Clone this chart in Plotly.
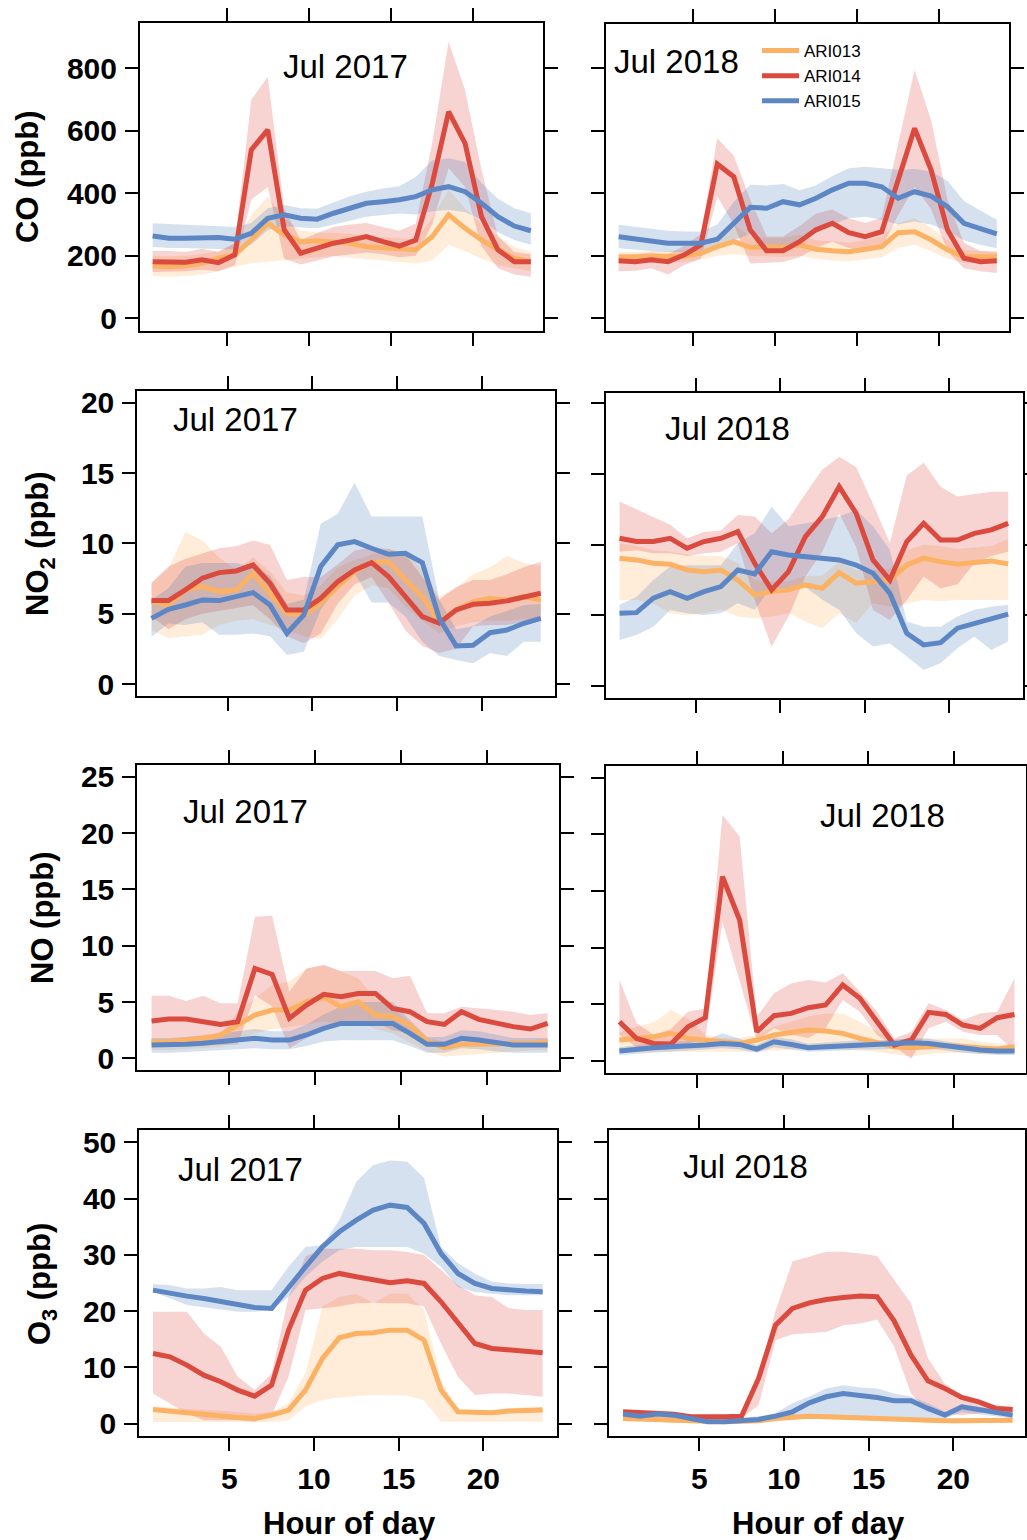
import plotly.graph_objects as go

# ---------------------------------------------------------------------------
# Diurnal cycles (hour-of-day means with spread) at three sites, July 2017/2018
# ---------------------------------------------------------------------------
HOURS = [0.5, 1.5, 2.5, 3.5, 4.5, 5.5, 6.5, 7.5, 8.5, 9.5, 10.5, 11.5,
         12.5, 13.5, 14.5, 15.5, 16.5, 17.5, 18.5, 19.5, 20.5, 21.5, 22.5, 23.5]
SITES = ["ARI013", "ARI014", "ARI015"]
X_TICKS = [5, 10, 15, 20]

# ---- CO (ppb) ----
co17_a13 = [167, 165, 167, 176, 192, 203, 251, 304, 267, 245, 248, 245, 240, 229, 227, 221, 219, 261, 331, 288, 251, 219, 192, 181]
co17_a13_lo = [135, 133, 135, 140, 150, 165, 176, 180, 185, 190, 195, 198, 195, 190, 185, 180, 175, 185, 235, 215, 190, 170, 160, 150]
co17_a13_hi = [200, 198, 200, 205, 215, 240, 330, 389, 320, 280, 275, 272, 270, 262, 258, 255, 252, 320, 411, 352, 300, 262, 228, 212]
co17_a14 = [181, 181, 179, 187, 178, 203, 539, 603, 283, 208, 224, 240, 250, 261, 245, 231, 250, 430, 661, 560, 325, 219, 181, 181]
co17_a14_lo = [148, 148, 150, 155, 150, 170, 380, 420, 190, 172, 185, 198, 205, 210, 205, 195, 200, 300, 480, 420, 230, 160, 140, 133]
co17_a14_hi = [215, 215, 212, 222, 212, 240, 699, 773, 350, 250, 272, 292, 300, 305, 292, 280, 302, 560, 885, 730, 475, 262, 212, 205]
co17_a15 = [263, 256, 256, 258, 258, 253, 272, 320, 331, 320, 317, 336, 352, 368, 373, 379, 389, 411, 421, 405, 368, 325, 295, 280]
co17_a15_lo = [229, 225, 225, 222, 222, 220, 235, 282, 295, 290, 288, 300, 312, 325, 330, 335, 332, 342, 346, 340, 315, 275, 250, 235]
co17_a15_hi = [304, 302, 300, 296, 295, 292, 305, 352, 362, 352, 350, 370, 390, 405, 415, 422, 452, 505, 512, 500, 432, 382, 352, 336]

co18_a13 = [195, 195, 197, 197, 199, 208, 229, 245, 227, 227, 227, 235, 221, 216, 213, 221, 229, 274, 277, 251, 219, 197, 197, 197]
co18_a13_lo = [175, 175, 178, 178, 180, 188, 200, 205, 200, 198, 196, 200, 190, 185, 182, 188, 195, 225, 235, 215, 190, 178, 178, 178]
co18_a13_hi = [212, 212, 215, 215, 218, 230, 260, 300, 262, 258, 258, 268, 250, 245, 242, 250, 262, 305, 320, 290, 250, 218, 215, 215]
co18_a14 = [184, 181, 187, 181, 203, 235, 494, 453, 283, 216, 216, 245, 283, 304, 274, 261, 277, 443, 608, 475, 283, 192, 181, 184]
co18_a14_lo = [150, 152, 160, 140, 170, 190, 390, 300, 175, 178, 180, 195, 225, 245, 225, 215, 225, 330, 420, 350, 215, 160, 150, 145]
co18_a14_hi = [205, 205, 210, 205, 232, 270, 576, 520, 380, 262, 262, 295, 335, 348, 320, 305, 322, 560, 795, 635, 380, 242, 215, 212]
co18_a15 = [261, 253, 245, 240, 240, 240, 253, 304, 355, 352, 373, 363, 384, 411, 432, 432, 421, 384, 405, 391, 357, 304, 285, 270]
co18_a15_lo = [224, 220, 215, 212, 212, 212, 222, 250, 270, 230, 225, 240, 275, 300, 320, 325, 315, 300, 310, 300, 280, 250, 235, 224]
co18_a15_hi = [299, 292, 285, 280, 278, 278, 300, 372, 427, 425, 430, 410, 425, 455, 480, 485, 480, 475, 478, 470, 440, 375, 345, 315]

# ---- NO2 (ppb) ----
no2_17_a13 = [5.86, 5.62, 6.69, 6.93, 6.57, 6.69, 7.87, 6.4, 5.03, 4.91, 5.74, 6.93, 7.99, 8.63, 8.7, 7.4, 6.21, 4.43, 5.27, 5.86, 6.1, 5.98, 6.21, 5.98]
no2_17_a13_lo = [3.85, 3.25, 3.4, 3.5, 4.2, 4.5, 4.6, 4.2, 3.8, 3.4, 3.2, 4.6, 6.3, 7.0, 6.8, 5.5, 4.5, 3.6, 4.1, 4.4, 4.5, 4.5, 4.6, 4.5]
no2_17_a13_hi = [7.2, 8.2, 10.8, 10.2, 9.0, 8.1, 9.0, 8.0, 6.5, 6.3, 7.0, 8.3, 8.8, 9.2, 9.6, 9.3, 8.2, 6.2, 6.8, 7.8, 8.3, 9.1, 8.6, 8.4]
no2_17_a14 = [5.93, 5.93, 6.69, 7.52, 7.92, 8.04, 8.46, 7.16, 5.27, 5.27, 6.1, 7.28, 8.11, 8.63, 7.64, 6.21, 4.79, 4.32, 5.27, 5.67, 5.74, 5.91, 6.21, 6.45]
no2_17_a14_lo = [4.8, 3.9, 4.6, 5.0, 5.2, 5.4, 5.6, 4.6, 3.4, 2.9, 3.6, 5.7, 7.1, 7.6, 5.8, 3.8, 2.7, 2.2, 2.5, 4.1, 4.2, 4.2, 4.4, 4.6]
no2_17_a14_hi = [7.2, 8.35, 8.9, 9.3, 9.65, 9.8, 10.2, 9.9, 7.4, 7.6, 7.6, 8.5, 9.5, 9.7, 9.6, 9.2, 7.6, 6.0, 6.9, 7.4, 7.4, 7.8, 8.3, 8.7]
no2_17_a15 = [4.67, 5.31, 5.62, 5.98, 5.93, 6.21, 6.5, 5.62, 3.61, 4.91, 8.35, 9.89, 10.12, 9.65, 9.22, 9.3, 8.63, 4.67, 2.71, 2.75, 3.65, 3.84, 4.32, 4.67]
no2_17_a15_lo = [3.37, 4.3, 4.2, 4.4, 3.5, 3.5, 3.6, 3.4, 2.07, 2.3, 5.3, 6.9, 7.9, 5.8, 5.8, 4.8, 3.0, 2.0, 1.7, 1.47, 2.2, 2.0, 3.0, 3.0]
no2_17_a15_hi = [6.0, 6.8, 8.35, 8.6, 8.6, 8.6, 8.3, 7.7, 5.7, 6.0, 11.4, 12.1, 14.3, 11.9, 11.9, 11.9, 11.9, 6.0, 3.9, 4.1, 4.8, 5.2, 5.6, 5.7]

no2_18_a13 = [9.04, 8.92, 8.68, 8.61, 8.21, 8.09, 8.21, 7.5, 6.44, 6.68, 6.8, 7.15, 6.92, 8.02, 7.27, 7.39, 7.5, 8.56, 9.04, 8.8, 8.61, 8.73, 8.85, 8.64]
no2_18_a13_lo = [6.09, 6.09, 5.85, 5.15, 5.0, 5.15, 5.4, 4.91, 4.8, 4.91, 5.15, 4.56, 4.08, 5.15, 4.45, 5.85, 5.62, 5.85, 6.09, 6.0, 6.09, 6.09, 6.09, 6.09]
no2_18_a13_hi = [10.1, 9.9, 9.6, 9.5, 9.3, 9.2, 9.2, 8.7, 7.5, 7.4, 7.4, 7.8, 7.8, 8.8, 8.2, 8.2, 8.3, 9.6, 10.0, 9.9, 9.7, 9.8, 9.9, 10.4]
no2_18_a14 = [10.45, 10.22, 10.22, 10.45, 9.74, 10.22, 10.45, 10.92, 8.68, 6.8, 8.09, 10.57, 11.98, 14.11, 12.22, 8.92, 7.5, 10.22, 11.51, 10.33, 10.33, 10.8, 11.04, 11.51]
no2_18_a14_lo = [9.5, 9.6, 9.4, 9.4, 9.2, 9.4, 9.5, 10.1, 6.09, 2.79, 4.91, 7.74, 9.5, 12.2, 9.86, 5.38, 4.67, 6.09, 7.74, 6.9, 7.2, 8.68, 9.2, 9.5]
no2_18_a14_hi = [13.05, 12.5, 11.9, 11.4, 10.45, 10.9, 11.0, 12.1, 12.0, 10.8, 11.8, 13.6, 15.3, 16.2, 15.5, 12.9, 10.1, 14.9, 15.8, 14.1, 13.4, 13.6, 13.75, 13.75]
no2_18_a15 = [5.15, 5.19, 6.21, 6.68, 6.21, 6.68, 7.03, 8.21, 7.93, 9.5, 9.27, 9.15, 8.97, 8.92, 8.56, 7.98, 6.56, 3.73, 2.91, 3.07, 4.09, 4.44, 4.72, 5.08]
no2_18_a15_lo = [3.26, 3.6, 4.2, 5.38, 5.15, 5.03, 5.15, 5.85, 5.4, 7.03, 6.8, 7.0, 6.1, 5.4, 3.75, 2.79, 3.0, 2.08, 1.14, 1.61, 2.67, 3.5, 2.55, 3.14]
no2_18_a15_hi = [5.74, 6.3, 7.5, 8.45, 8.55, 8.55, 8.55, 10.1, 10.8, 12.69, 11.3, 11.5, 11.75, 12.0, 12.46, 11.3, 9.63, 4.56, 4.2, 4.2, 4.91, 5.4, 5.6, 5.74]

# ---- NO (ppb) ----
no17_a13 = [1.48, 1.48, 1.62, 1.77, 2.07, 2.96, 3.84, 4.28, 4.28, 5.03, 5.41, 4.58, 5.03, 3.84, 3.7, 2.96, 1.48, 0.94, 1.24, 1.24, 1.24, 1.24, 1.33, 1.48]
no17_a13_lo = [0.74, 0.74, 0.8, 0.9, 1.0, 1.5, 2.2, 2.6, 2.8, 3.0, 3.3, 3.0, 3.3, 2.6, 2.2, 1.4, 0.6, 0.15, 0.3, 0.4, 0.5, 0.6, 0.7, 0.7]
no17_a13_hi = [1.7, 1.7, 1.9, 2.1, 2.2, 4.1, 5.3, 6.5, 6.8, 7.98, 8.28, 7.7, 7.1, 5.3, 4.4, 3.2, 1.8, 1.5, 1.5, 1.5, 1.5, 1.6, 1.6, 1.7]
no17_a14 = [3.31, 3.49, 3.49, 3.25, 3.01, 3.25, 7.98, 7.45, 3.55, 4.73, 5.68, 5.47, 5.76, 5.76, 4.43, 4.14, 3.25, 3.01, 4.14, 3.46, 3.1, 2.81, 2.6, 3.1]
no17_a14_lo = [1.33, 1.33, 1.4, 1.3, 1.2, 1.2, 5.6, 4.6, 0.9, 1.8, 2.9, 3.0, 3.2, 3.2, 2.5, 2.2, 1.5, 1.0, 1.5, 1.4, 1.3, 1.2, 1.1, 1.0]
no17_a14_hi = [5.56, 5.56, 5.08, 5.56, 4.88, 4.88, 12.57, 12.66, 5.9, 7.98, 8.28, 7.75, 7.75, 7.75, 7.1, 7.34, 4.0, 4.0, 4.58, 4.43, 4.28, 4.14, 3.84, 4.0]
no17_a15 = [1.18, 1.18, 1.24, 1.33, 1.48, 1.62, 1.77, 1.62, 1.62, 2.07, 2.66, 3.1, 3.1, 3.1, 3.1, 2.21, 1.24, 1.24, 1.77, 1.62, 1.39, 1.18, 1.18, 1.18]
no17_a15_lo = [0.5, 0.5, 0.55, 0.6, 0.7, 0.8, 0.9, 0.8, 0.8, 1.1, 1.5, 1.6, 1.6, 1.6, 1.6, 1.1, 0.5, 0.5, 0.9, 0.8, 0.6, 0.5, 0.5, 0.5]
no17_a15_hi = [1.8, 1.8, 1.9, 2.0, 2.2, 2.4, 2.6, 2.4, 2.4, 3.0, 3.9, 4.6, 5.0, 5.0, 5.0, 3.4, 1.9, 1.9, 2.5, 2.4, 2.1, 1.8, 1.8, 1.8]

no18_a13 = [1.83, 1.97, 2.12, 2.42, 1.97, 1.83, 1.68, 1.53, 1.83, 2.27, 2.5, 2.71, 2.62, 2.42, 1.97, 1.59, 1.24, 1.15, 1.24, 1.33, 1.24, 1.09, 1.03, 1.24]
no18_a13_lo = [0.8, 0.8, 0.8, 0.8, 0.8, 0.8, 0.8, 0.8, 0.8, 0.9, 1.0, 1.0, 1.0, 1.0, 0.9, 0.8, 0.6, 0.35, 0.6, 0.7, 0.7, 0.6, 0.6, 0.7]
no18_a13_hi = [2.5, 3.0, 3.4, 4.48, 3.7, 2.3, 2.0, 2.0, 2.3, 3.0, 3.45, 3.9, 4.18, 4.18, 3.45, 2.6, 1.83, 1.97, 1.97, 1.97, 1.97, 1.68, 1.53, 1.4]
no18_a14 = [3.45, 1.97, 1.53, 1.47, 3.0, 3.8, 16.26, 12.43, 2.56, 3.98, 4.18, 4.68, 4.92, 6.69, 5.51, 3.45, 1.39, 1.83, 4.27, 4.09, 3.15, 2.86, 3.8, 4.09]
no18_a14_lo = [2.27, 1.2, 1.2, 1.2, 1.5, 1.97, 12.28, 7.1, 1.8, 2.86, 2.3, 2.0, 2.86, 5.36, 4.33, 2.27, 1.24, 0.2, 2.86, 3.45, 2.57, 2.27, 2.27, 0.8]
no18_a14_hi = [7.13, 3.3, 2.3, 2.8, 4.33, 4.62, 21.7, 19.8, 3.89, 5.95, 6.83, 7.13, 6.92, 7.72, 6.1, 4.33, 1.97, 2.57, 5.07, 4.48, 3.59, 4.18, 4.33, 7.27]
no18_a15 = [0.85, 1.03, 1.15, 1.24, 1.3, 1.39, 1.53, 1.44, 1.03, 1.68, 1.44, 1.15, 1.24, 1.3, 1.39, 1.39, 1.44, 1.59, 1.53, 1.3, 1.09, 0.94, 0.85, 0.85]
no18_a15_lo = [0.5, 0.65, 0.75, 0.85, 0.9, 1.0, 1.1, 1.0, 0.7, 1.2, 1.0, 0.8, 0.85, 0.9, 1.0, 1.0, 1.05, 1.2, 1.1, 0.9, 0.7, 0.6, 0.5, 0.5]
no18_a15_hi = [1.2, 1.4, 1.55, 1.65, 1.7, 1.8, 2.42, 1.95, 1.4, 2.1, 1.9, 1.5, 1.6, 1.7, 1.8, 1.8, 1.85, 2.0, 1.95, 1.7, 1.5, 1.3, 1.2, 1.2]

# ---- O3 (ppb) ----
o3_17_a13 = [2.52, 2.23, 1.81, 1.69, 1.33, 1.1, 0.92, 1.51, 2.4, 5.96, 11.59, 15.26, 16.03, 16.15, 16.62, 16.62, 14.84, 5.96, 2.1, 2.1, 1.93, 2.23, 2.4, 2.4]
o3_17_a13_lo = [0.3, 0.3, 0.3, 0.3, 0.3, 0.3, 0.3, 0.3, 0.6, 3.0, 4.2, 4.65, 4.9, 5.07, 5.0, 5.0, 4.1, 0.33, 0.33, 0.33, 0.33, 0.33, 0.33, 0.33]
o3_17_a13_hi = [3.0, 2.9, 2.6, 2.5, 2.3, 2.0, 1.8, 2.1, 3.6, 9.0, 20.8, 22.5, 23.1, 21.4, 23.1, 23.1, 20.2, 7.7, 2.4, 2.4, 2.4, 2.7, 3.0, 3.0]
o3_17_a14 = [12.47, 11.88, 10.4, 8.62, 7.44, 5.96, 4.89, 6.84, 16.62, 23.73, 25.81, 26.7, 26.1, 25.51, 25.04, 25.39, 24.92, 21.66, 17.81, 14.25, 13.36, 13.07, 12.95, 12.59]
o3_17_a14_lo = [5.36, 3.58, 1.8, 0.62, 0.62, 0.62, 0.33, 1.5, 8.33, 20.2, 20.5, 20.8, 21.4, 21.5, 21.4, 21.4, 20.8, 14.25, 8.33, 5.07, 5.36, 5.36, 5.07, 4.77]
o3_17_a14_hi = [19.87, 19.87, 19.87, 16.03, 13.66, 8.33, 5.96, 8.9, 22.5, 29.7, 31.1, 31.1, 31.1, 30.8, 30.8, 30.5, 29.96, 27.3, 24.6, 22.8, 22.5, 20.5, 20.2, 20.2]
o3_17_a15 = [23.73, 23.14, 22.67, 22.25, 21.66, 21.07, 20.65, 20.47, 24.33, 27.88, 31.44, 34.1, 36.18, 37.96, 38.84, 38.43, 35.59, 30.25, 26.7, 24.92, 24.03, 23.73, 23.56, 23.44]
o3_17_a15_lo = [23.4, 22.3, 21.1, 20.8, 20.3, 19.9, 19.9, 20.2, 22.5, 26.1, 28.8, 30.8, 31.4, 31.4, 31.4, 31.4, 30.2, 27.9, 24.3, 23.4, 23.1, 22.8, 22.8, 22.8]
o3_17_a15_hi = [24.8, 24.6, 24.0, 24.0, 24.3, 23.7, 23.7, 23.7, 27.9, 31.4, 31.7, 36.2, 43.0, 46.0, 46.8, 46.6, 43.6, 31.4, 28.5, 26.7, 25.2, 24.9, 24.8, 24.8]

o3_18_a13 = [0.92, 0.92, 0.74, 0.62, 0.5, 0.33, 0.33, 0.4, 0.5, 0.92, 1.21, 1.33, 1.21, 1.1, 0.92, 0.92, 0.74, 0.62, 0.5, 0.5, 0.5, 0.5, 0.55, 0.62]
o3_18_a13_lo = [0.4, 0.4, 0.3, 0.2, 0.1, 0.0, 0.0, 0.05, 0.1, 0.5, 0.8, 0.9, 0.8, 0.7, 0.5, 0.5, 0.35, 0.25, 0.15, 0.15, 0.15, 0.15, 0.2, 0.25]
o3_18_a13_hi = [1.4, 1.4, 1.2, 1.1, 0.95, 0.8, 0.8, 0.85, 0.95, 1.4, 1.7, 1.8, 1.7, 1.6, 1.4, 1.4, 1.2, 1.1, 0.95, 0.95, 0.95, 0.95, 1.0, 1.1]
o3_18_a14 = [2.1, 1.93, 1.93, 1.69, 1.21, 1.1, 1.21, 1.33, 8.03, 17.51, 20.47, 21.48, 22.07, 22.43, 22.67, 22.55, 18.28, 12.18, 7.61, 6.25, 4.65, 3.88, 2.7, 2.52]
o3_18_a14_lo = [1.8, 1.6, 1.6, 1.4, 0.9, 0.8, 0.9, 0.9, 3.3, 14.8, 15.9, 16.1, 16.3, 17.5, 17.8, 18.5, 13.7, 5.36, 2.1, 1.8, 1.5, 1.8, 2.1, 1.8]
o3_18_a14_hi = [2.28, 2.3, 2.3, 2.0, 1.5, 1.4, 1.5, 1.5, 8.3, 20.0, 28.8, 29.7, 30.55, 30.55, 30.25, 29.8, 25.5, 21.4, 11.6, 7.1, 5.0, 3.9, 3.3, 3.0]
o3_18_a15 = [1.69, 1.33, 1.69, 1.51, 0.92, 0.33, 0.33, 0.62, 0.74, 1.33, 2.1, 3.7, 4.77, 5.36, 5.07, 4.65, 4.06, 4.06, 2.7, 1.51, 2.99, 2.52, 2.1, 1.51]
o3_18_a15_lo = [1.2, 0.9, 1.2, 1.0, 0.5, 0.0, 0.0, 0.2, 0.3, 0.8, 0.9, 0.9, 0.9, 0.9, 0.9, 0.9, 0.9, 0.9, 0.9, 0.9, 2.0, 1.6, 1.3, 0.9]
o3_18_a15_hi = [2.2, 1.8, 2.2, 2.0, 1.4, 0.8, 0.8, 1.1, 1.3, 1.9, 3.6, 4.8, 6.25, 6.84, 6.43, 6.25, 5.36, 4.8, 3.6, 2.1, 3.4, 3.0, 2.6, 2.0]

# ---------------------------------------------------------------------------
# Styling
# ---------------------------------------------------------------------------
W, H = 1027, 1540          # canvas size in pixels
FONT = "Liberation Sans, Arial, Helvetica, sans-serif"
LINE_COLORS = ["rgb(252,178,100)", "rgb(219,74,62)", "rgb(92,134,196)"]
BAND_COLORS = ["rgba(253,174,97,0.24)", "rgba(215,48,39,0.21)", "rgba(69,117,180,0.22)"]

# Each panel: label, series (mean, low, high per site), frame box in pixels
# (left, top, right, bottom), axis ranges, y ticks, label centre in pixels.
panels = [
    dict(label="Jul 2017", series=[(co17_a13, co17_a13_lo, co17_a13_hi), (co17_a14, co17_a14_lo, co17_a14_hi), (co17_a15, co17_a15_lo, co17_a15_hi)],
         box=(140, 23.3, 543, 330.7), xr=[-0.27, 24.24], yr=[-40, 944], yt=[0, 200, 400, 600, 800], lab=(345, 66.7)),
    dict(label="Jul 2018", series=[(co18_a13, co18_a13_lo, co18_a13_hi), (co18_a14, co18_a14_lo, co18_a14_hi), (co18_a15, co18_a15_lo, co18_a15_hi)],
         box=(606, 24, 1009.3, 330.7), xr=[-0.27, 24.26], yr=[-40, 942], yt=[0, 200, 400, 600, 800], lab=(676, 61.7)),
    dict(label="Jul 2017", series=[(no2_17_a13, no2_17_a13_lo, no2_17_a13_hi), (no2_17_a14, no2_17_a14_lo, no2_17_a14_hi), (no2_17_a15, no2_17_a15_lo, no2_17_a15_hi)],
         box=(137.3, 390.7, 555, 696), xr=[-0.34, 24.34], yr=[-0.85, 20.85], yt=[0, 5, 10, 15, 20], lab=(235.5, 419.3)),
    dict(label="Jul 2018", series=[(no2_18_a13, no2_18_a13_lo, no2_18_a13_hi), (no2_18_a14, no2_18_a14_lo, no2_18_a14_hi), (no2_18_a15, no2_18_a15_lo, no2_18_a15_hi)],
         box=(606, 392.7, 1022.7, 698.3), xr=[-0.3, 24.36], yr=[-0.87, 20.75], yt=[0, 5, 10, 15, 20], lab=(727, 428.3)),
    dict(label="Jul 2017", series=[(no17_a13, no17_a13_lo, no17_a13_hi), (no17_a14, no17_a14_lo, no17_a14_hi), (no17_a15, no17_a15_lo, no17_a15_hi)],
         box=(137.3, 765, 559, 1070), xr=[-0.33, 24.16], yr=[-1.04, 26.05], yt=[0, 5, 10, 15, 20, 25], lab=(245.5, 811)),
    dict(label="Jul 2018", series=[(no18_a13, no18_a13_lo, no18_a13_hi), (no18_a14, no18_a14_lo, no18_a14_hi), (no18_a15, no18_a15_lo, no18_a15_hi)],
         box=(606, 765.7, 1026, 1073.3), xr=[-0.28, 24.17], yr=[-1.11, 26.06], yt=[0, 5, 10, 15, 20, 25], lab=(882.5, 815)),
    dict(label="Jul 2017", series=[(o3_17_a13, o3_17_a13_lo, o3_17_a13_hi), (o3_17_a14, o3_17_a14_lo, o3_17_a14_hi), (o3_17_a15, o3_17_a15_lo, o3_17_a15_hi)],
         box=(139.3, 1130, 556.7, 1436), xr=[-0.31, 24.33], yr=[-2.2, 52.2], yt=[0, 10, 20, 30, 40, 50], lab=(240.5, 1169.3)),
    dict(label="Jul 2018", series=[(o3_18_a13, o3_18_a13_lo, o3_18_a13_hi), (o3_18_a14, o3_18_a14_lo, o3_18_a14_hi), (o3_18_a15, o3_18_a15_lo, o3_18_a15_hi)],
         box=(609.3, 1130, 1025, 1436), xr=[-0.31, 24.23], yr=[-2.2, 52.2], yt=[0, 10, 20, 30, 40, 50], lab=(745.5, 1166)),
]

Y_TITLES = [("CO (ppb)", 28, 177), ("NO<sub>2</sub> (ppb)", 40, 544),
            ("NO (ppb)", 42, 918), ("O<sub>3</sub> (ppb)", 42, 1284)]
X_TITLES = [("Hour of day", 349, 1523), ("Hour of day", 818, 1523)]

fig = go.Figure()
layout = dict(width=W, height=H, margin=dict(l=0, r=0, t=0, b=0, autoexpand=False),
              paper_bgcolor="white", plot_bgcolor="white",
              font=dict(family=FONT, color="black"))
annotations = []

for i, p in enumerate(panels):
    n = i + 1
    xa, ya = ("x" if n == 1 else f"x{n}"), ("y" if n == 1 else f"y{n}")
    left, top, right, bottom = p["box"]
    row, col = divmod(i, 2)

    # spread bands first, then the mean lines on top
    for s, (mean, lo, hi) in enumerate(p["series"]):
        fig.add_trace(go.Scatter(
            x=HOURS + HOURS[::-1], y=hi + lo[::-1], xaxis=xa, yaxis=ya,
            mode="lines", fill="toself", fillcolor=BAND_COLORS[s],
            line=dict(width=0), hoverinfo="skip", showlegend=False))
    for s, (mean, lo, hi) in enumerate(p["series"]):
        fig.add_trace(go.Scatter(
            x=HOURS, y=mean, xaxis=xa, yaxis=ya, mode="lines", name=SITES[s],
            line=dict(color=LINE_COLORS[s], width=5),
            showlegend=(n == 2), legendgroup=SITES[s]))

    axis_common = dict(showline=True, linewidth=2, linecolor="black", mirror="allticks",
                       ticks="outside", ticklen=13, tickwidth=2, tickcolor="black",
                       showgrid=False, zeroline=False, fixedrange=True, automargin=False,
                       tickfont=dict(family=FONT, size=30, color="black", weight="bold"))
    layout["xaxis" if n == 1 else f"xaxis{n}"] = dict(
        axis_common, domain=[left / W, right / W], anchor=ya, range=p["xr"],
        tickmode="array", tickvals=X_TICKS, showticklabels=(row == 3),
        ticklabelstandoff=2)
    layout["yaxis" if n == 1 else f"yaxis{n}"] = dict(
        axis_common, domain=[1 - bottom / H, 1 - top / H], anchor=xa, range=p["yr"],
        tickmode="array", tickvals=p["yt"], showticklabels=(col == 0),
        ticklabelstandoff=2)

    annotations.append(dict(text=p["label"], x=p["lab"][0] / W, y=1 - p["lab"][1] / H,
                            xref="paper", yref="paper", xanchor="center", yanchor="middle",
                            showarrow=False, font=dict(family=FONT, size=33, color="black")))

for text, px, py in Y_TITLES:
    annotations.append(dict(text=text, x=px / W, y=1 - py / H, xref="paper", yref="paper",
                            xanchor="center", yanchor="middle", textangle=-90, showarrow=False,
                            font=dict(family=FONT, size=31, color="black", weight="bold")))
for text, px, py in X_TITLES:
    annotations.append(dict(text=text, x=px / W, y=1 - py / H, xref="paper", yref="paper",
                            xanchor="center", yanchor="middle", showarrow=False,
                            font=dict(family=FONT, size=31, color="black", weight="bold")))

layout["annotations"] = annotations
layout["showlegend"] = True
layout["legend"] = dict(x=757 / W, y=1 - 33 / H, xanchor="left", yanchor="top",
                        bgcolor="rgba(0,0,0,0)", borderwidth=0,
                        font=dict(family=FONT, size=17, color="black"),
                        traceorder="normal", itemwidth=37, tracegroupgap=0)
fig.update_layout(**layout)

fig.write_html("out.html")
